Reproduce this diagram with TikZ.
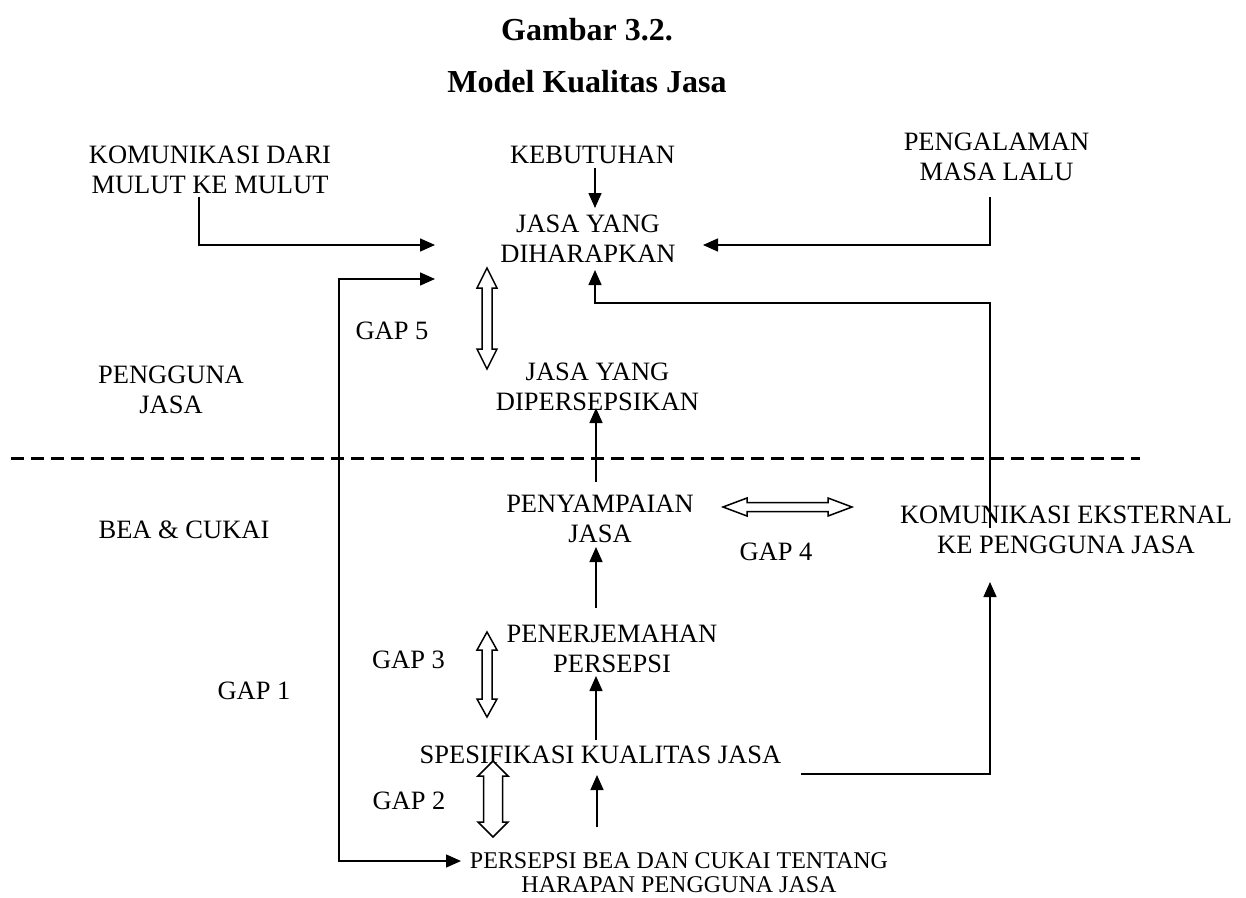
\documentclass[tikz,border=0pt]{standalone}
\usepackage{fontspec}
\setmainfont{Liberation Serif}
\usetikzlibrary{arrows.meta}
\newcommand\mlines[1]{\begin{tabular}[t]{@{}c@{}}#1\end{tabular}}
% vertical hollow double arrow: x, ytop, ybot, shaft half, head half, head length
\newcommand\gapV[6]{\draw[gaparrow] (#1,#2) -- ({#1+#5},{#2+#6}) -- ({#1+#4},{#2+#6}) -- ({#1+#4},{#3-#6}) -- ({#1+#5},{#3-#6}) -- (#1,#3) -- ({#1-#5},{#3-#6}) -- ({#1-#4},{#3-#6}) -- ({#1-#4},{#2+#6}) -- ({#1-#5},{#2+#6}) -- cycle;}
% horizontal hollow double arrow: y, xleft, xright, shaft half, head half, head length
\newcommand\gapH[6]{\draw[gaparrow] (#2,#1) -- ({#2+#6},{#1-#5}) -- ({#2+#6},{#1-#4}) -- ({#3-#6},{#1-#4}) -- ({#3-#6},{#1-#5}) -- (#3,#1) -- ({#3-#6},{#1+#5}) -- ({#3-#6},{#1+#4}) -- ({#2+#6},{#1+#4}) -- ({#2+#6},{#1+#5}) -- cycle;}
\begin{document}
\begin{tikzpicture}[x=1pt,y=-1pt,
  lbl/.style={inner sep=0pt, anchor=base, font=\fontsize{26.5}{30}\selectfont},
  small/.style={inner sep=0pt, anchor=base, font=\fontsize{24}{24.5}\selectfont},
  ttl/.style={inner sep=0pt, anchor=base, font=\fontsize{32}{36}\selectfont\bfseries},
  arr/.style={line width=1.5pt, -{Triangle[length=15pt,width=13pt]}},
  darr/.style={line width=1.5pt, {Triangle[length=15pt,width=13pt]}-{Triangle[length=15pt,width=13pt]}},
  gaparrow/.style={line width=1.5pt, fill=white, line join=miter},
  divider/.style={line width=3pt, dash pattern=on 13pt off 7pt}]
\fill[white] (0,0) rectangle (1246,897);
\useasboundingbox (0,0) rectangle (1246,897);

% titles
\node[ttl] (t1) at (587,40) {Gambar 3.2.};
\node[ttl] (t2) at (587,92) {Model Kualitas Jasa};

% text nodes
\node[lbl] (kom) at (210,163) {\mlines{KOMUNIKASI DARI\\MULUT KE MULUT}};
\node[lbl] (keb) at (592.5,163) {KEBUTUHAN};
\node[lbl] (peng) at (996.5,150) {\mlines{PENGALAMAN\\MASA LALU}};
\node[lbl] (harap) at (588,232) {\mlines{JASA YANG\\DIHARAPKAN}};
\node[lbl] (persep) at (597.5,380) {\mlines{JASA YANG\\DIPERSEPSIKAN}};
\node[lbl] (pengguna) at (171,383) {\mlines{PENGGUNA\\JASA}};
\node[lbl] (bea) at (184,538) {BEA \& CUKAI};
\node[lbl] (sampai) at (600,512) {\mlines{PENYAMPAIAN\\JASA}};
\node[lbl] (komeks) at (1066,523) {\mlines{KOMUNIKASI EKSTERNAL\\KE PENGGUNA JASA}};
\node[lbl] (penerj) at (612,642) {\mlines{PENERJEMAHAN\\PERSEPSI}};
\node[lbl] (spes) at (600.5,763) {SPESIFIKASI KUALITAS JASA};
\node[small] (persbea) at (679,868) {\mlines{PERSEPSI BEA DAN CUKAI TENTANG\\HARAPAN PENGGUNA JASA}};

% gap labels
\node[lbl] (g5) at (392,339) {GAP 5};
\node[lbl] (g4) at (776,560) {GAP 4};
\node[lbl] (g3) at (408.5,668) {GAP 3};
\node[lbl] (g2) at (409,809) {GAP 2};
\node[lbl] (g1) at (254,699) {GAP 1};

% divider
\draw[divider] (11,458) -- (1140,458);

% connector end points
\coordinate (komA) at (199,197);
\coordinate (harapL1) at (435,245);
\coordinate (harapL2) at (435,279);
\coordinate (pengA) at (990,197);
\coordinate (harapR) at (703,245);
\coordinate (kebA) at (595,168);
\coordinate (harapT) at (595,208);
\coordinate (harapB) at (595,270);
\coordinate (bendR) at (595,303);
\coordinate (komeksT) at (990,528);
\coordinate (loopX) at (339,861);
\coordinate (persbeaL) at (461,861);
\coordinate (sampaiT) at (596,482);
\coordinate (persepB) at (596,408);
\coordinate (penerjT) at (596,608);
\coordinate (sampaiB) at (596,547);
\coordinate (spesT) at (596,740);
\coordinate (penerjB) at (596,676);
\coordinate (persbeaT) at (597,827);
\coordinate (spesB) at (597,775);
\coordinate (spesR) at (801,774);
\coordinate (komeksB) at (990,582);

% connectors
\draw[arr] (komA) |- (harapL1);
\draw[arr] (pengA) |- (harapR);
\draw[arr] (kebA) -- (harapT);
\draw[darr] (harapL2) -| (loopX) -- (persbeaL);
\draw[arr] (komeksT) |- (bendR) -- (harapB);
\draw[arr] (sampaiT) -- (persepB);
\draw[arr] (penerjT) -- (sampaiB);
\draw[arr] (spesT) -- (penerjB);
\draw[arr] (persbeaT) -- (spesB);
\draw[arr] (spesR) -| (komeksB);

% gap double arrows
\gapV{487}{268}{369}{5}{10}{20}
\gapV{487}{632}{717}{5}{10}{18}
\gapV{493}{761}{837}{9.5}{15}{15}
\gapH{507}{723}{852}{4.5}{9}{24}
\end{tikzpicture}
\end{document}
